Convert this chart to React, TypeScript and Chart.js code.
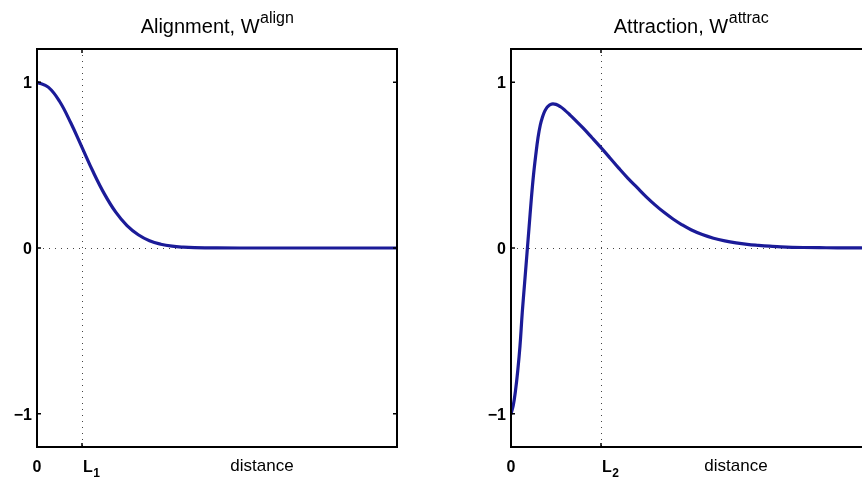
import React, { useEffect, useRef } from "react";
import { Chart, registerables } from "chart.js";

Chart.register(...registerables);

// ---- data (distance in units of L1; L2 = 2) ----
const distanceAlign = [0, 0.25, 0.5, 0.75, 1, 1.25, 1.5, 1.75, 2, 2.25, 2.5, 2.75, 3, 3.25, 3.5, 4, 5, 6, 7, 8];
const weightAlign = [1.0, 0.97, 0.885, 0.755, 0.607, 0.458, 0.325, 0.216, 0.135, 0.08, 0.044, 0.023, 0.011, 0.005, 0.002, 0.0003, 0, 0, 0, 0];

const distanceAttrac = [
  0, 0.05, 0.1, 0.15, 0.2, 0.25, 0.3, 0.35, 0.4, 0.45, 0.5, 0.55, 0.6, 0.65, 0.7, 0.75, 0.8, 0.85, 0.9,
  1.0, 1.1, 1.2, 1.3, 1.4, 1.6, 1.8, 2.0, 2.2, 2.4, 2.6, 2.8, 3.0, 3.2, 3.4, 3.6, 3.8, 4.0, 4.25, 4.5,
  4.75, 5.0, 5.25, 5.5, 5.75, 6.0, 6.5, 7.0, 7.5, 8.0,
];
const weightAttrac = [
  -1.0, -0.95, -0.86, -0.74, -0.59, -0.39, -0.22, -0.05, 0.12, 0.29, 0.44, 0.56, 0.665, 0.74, 0.79, 0.825, 0.848, 0.861, 0.868,
  0.866, 0.852, 0.83, 0.805, 0.779, 0.724, 0.665, 0.605, 0.543, 0.48, 0.42, 0.365, 0.31, 0.26, 0.215, 0.175, 0.14, 0.11, 0.081, 0.059,
  0.043, 0.031, 0.022, 0.016, 0.011, 0.007, 0.003, 0.0015, 0.0005, 0,
];

const yTickValues = [-1, 0, 1];
const yTickLabels = ["\u22121", "0", "1"];
const xMin = 0;
const xMax = 8;
const yMin = -1.2;
const yMax = 1.2;
const markerL1 = 1;
const markerL2 = 2;
const distanceLabelPos = 5;

const FONT = "'Liberation Sans', Arial, Helvetica, sans-serif";
const LINE_COLOR = "#1b1b98";

type PanelCfg = {
  xs: number[];
  ys: number[];
  titleMain: string;
  titleSup: string;
  marker: number;
  markerSub: string;
  padding: { left: number; right: number; top: number; bottom: number };
  width: number;
  left: number;
};

function makePlugin(cfg: PanelCfg) {
  return {
    id: "matlabDecor",
    beforeDatasetsDraw(chart: any) {
      const { ctx, chartArea } = chart;
      const xs = chart.scales.x;
      const ys = chart.scales.y;
      ctx.save();
      ctx.strokeStyle = "#444";
      ctx.lineWidth = 1;
      ctx.setLineDash([1, 5]);
      const mx = Math.round(xs.getPixelForValue(cfg.marker)) + 0.5;
      ctx.beginPath();
      ctx.moveTo(mx, chartArea.top);
      ctx.lineTo(mx, chartArea.bottom);
      ctx.stroke();
      const zy = Math.round(ys.getPixelForValue(0)) + 0.5;
      ctx.beginPath();
      ctx.moveTo(chartArea.left, zy);
      ctx.lineTo(chartArea.right, zy);
      ctx.stroke();
      ctx.restore();
    },
    afterDraw(chart: any) {
      const { ctx, chartArea } = chart;
      const xs = chart.scales.x;
      const ys = chart.scales.y;
      const { left, right, top, bottom } = chartArea;
      ctx.save();
      // frame
      ctx.strokeStyle = "#000";
      ctx.lineWidth = 2;
      ctx.strokeRect(left, top, right - left, bottom - top);
      // y ticks (inward, both sides)
      ctx.lineWidth = 1.5;
      yTickValues.forEach((v) => {
        const y = ys.getPixelForValue(v);
        ctx.beginPath();
        ctx.moveTo(left, y);
        ctx.lineTo(left + 4, y);
        ctx.moveTo(right, y);
        ctx.lineTo(right - 4, y);
        ctx.stroke();
      });
      // x ticks at marker
      const mx = xs.getPixelForValue(cfg.marker);
      ctx.beginPath();
      ctx.moveTo(mx, bottom);
      ctx.lineTo(mx, bottom - 4);
      ctx.moveTo(mx, top);
      ctx.lineTo(mx, top + 4);
      ctx.stroke();

      ctx.fillStyle = "#000";
      // y tick labels
      ctx.font = `bold 16px ${FONT}`;
      ctx.textAlign = "right";
      ctx.textBaseline = "alphabetic";
      yTickValues.forEach((v, i) => {
        const y = ys.getPixelForValue(v);
        ctx.fillText(yTickLabels[i], left - 5, y + 6);
      });
      // x tick labels
      const xBase = 471.5;
      ctx.textAlign = "center";
      ctx.fillText("0", xs.getPixelForValue(xMin), xBase);
      ctx.textAlign = "left";
      ctx.fillText("L", mx + 1, xBase);
      const lw = ctx.measureText("L").width;
      ctx.font = `bold 12px ${FONT}`;
      ctx.fillText(cfg.markerSub, mx + 1 + lw + 0.5, xBase + 5);
      ctx.font = `17px ${FONT}`;
      ctx.textAlign = "center";
      ctx.fillText("distance", xs.getPixelForValue(distanceLabelPos), xBase - 1);

      // title with superscript
      const cx = (left + right) / 2;
      ctx.textAlign = "left";
      ctx.font = `20px ${FONT}`;
      const w1 = ctx.measureText(cfg.titleMain).width;
      ctx.font = `16px ${FONT}`;
      const w2 = ctx.measureText(cfg.titleSup).width;
      const x0 = cx - (w1 + w2) / 2;
      ctx.font = `20px ${FONT}`;
      ctx.fillText(cfg.titleMain, x0, 33);
      ctx.font = `16px ${FONT}`;
      ctx.fillText(cfg.titleSup, x0 + w1 + 0.5, 23);
      ctx.restore();
    },
  };
}

function Panel({ cfg }: { cfg: PanelCfg }) {
  const ref = useRef<HTMLCanvasElement | null>(null);
  useEffect(() => {
    if (!ref.current) return;
    const data = cfg.xs.map((x, i) => ({ x, y: cfg.ys[i] }));
    const chart = new Chart(ref.current, {
      type: "line",
      data: {
        datasets: [
          {
            data,
            borderColor: LINE_COLOR,
            borderWidth: 3.2,
            pointRadius: 0,
            fill: false,
            tension: 0.4,
            borderJoinStyle: "round",
            borderCapStyle: "round",
          },
        ],
      },
      options: {
        animation: false,
        responsive: false,
        maintainAspectRatio: false,
        devicePixelRatio: 1,
        layout: { padding: cfg.padding },
        plugins: { legend: { display: false }, tooltip: { enabled: false }, title: { display: false } },
        scales: {
          x: { type: "linear", min: xMin, max: xMax, display: false },
          y: { type: "linear", min: yMin, max: yMax, display: false },
        },
      },
      plugins: [makePlugin(cfg)],
    } as any);
    return () => chart.destroy();
  }, [cfg]);
  return (
    <canvas
      ref={ref}
      width={cfg.width}
      height={479}
      style={{ position: "absolute", left: cfg.left, top: 0, width: cfg.width, height: 479 }}
    />
  );
}

const leftCfg: PanelCfg = {
  xs: distanceAlign,
  ys: weightAlign,
  titleMain: "Alignment, W",
  titleSup: "align",
  marker: markerL1,
  markerSub: "1",
  padding: { left: 37, right: 34, top: 49, bottom: 32 },
  width: 431,
  left: 0,
};

const rightCfg: PanelCfg = {
  xs: distanceAttrac,
  ys: weightAttrac,
  titleMain: "Attraction, W",
  titleSup: "attrac",
  marker: markerL2,
  markerSub: "2",
  padding: { left: 80, right: 20, top: 49, bottom: 32 },
  width: 460,
  left: 431,
};

export default function App() {
  return (
    <div
      style={{
        position: "fixed",
        left: 0,
        top: 0,
        width: 862,
        height: 479,
        overflow: "hidden",
        background: "#fff",
      }}
    >
      <Panel cfg={leftCfg} />
      <Panel cfg={rightCfg} />
    </div>
  );
}
